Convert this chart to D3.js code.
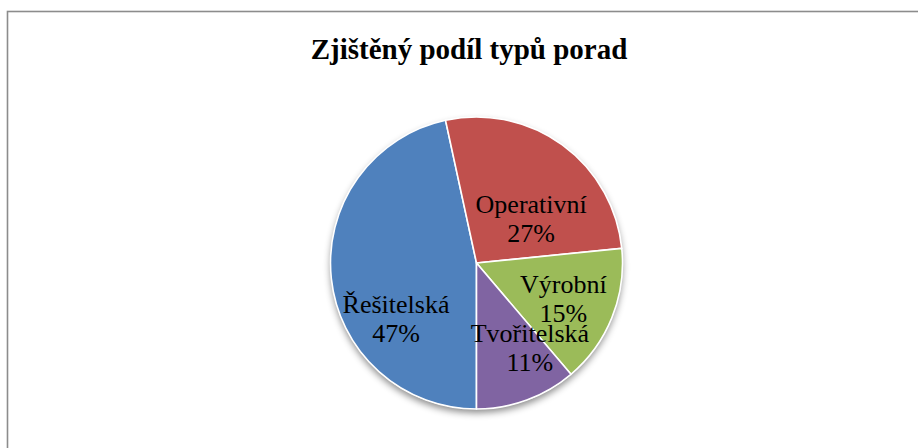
<!DOCTYPE html>
<html>
<head>
<meta charset="utf-8">
<script src="https://cdn.jsdelivr.net/npm/d3@7"></script>
<style>
  html, body { margin: 0; padding: 0; background: #fff; }
  svg { display: block; }
</style>
</head>
<body>
<svg id="chart" width="918" height="448"></svg>
<script>
// ---- data ----
const title = "Zjištěný podíl typů porad";
const categories = ["Řešitelská", "Operativní", "Výrobní", "Tvořitelská"];
const values = [46.6, 26.8, 15.4, 11.2];
const colors = ["#4F81BD", "#C0504D", "#9BBB59", "#8064A2"];

// ---- layout ----
const W = 918, H = 448;
const cx = 476.5, cy = 263, R = 146;
const labelNudge = { "Řešitelská": [11, 40], "Operativní": [0.6, 24.5], "Výrobní": [1.6, -4.3], "Tvořitelská": [21.7, -7.3] };

const svg = d3.select("#chart");

const defs = svg.append("defs");
const f = defs.append("filter").attr("id", "shadow").attr("x", "-20%").attr("y", "-20%").attr("width", "140%").attr("height", "140%");
f.append("feDropShadow").attr("dx", 0).attr("dy", 4).attr("stdDeviation", 3.5)
  .attr("flood-color", "#000").attr("flood-opacity", 0.45);

// frame
svg.append("rect")
  .attr("x", 7.5).attr("y", 11.5).attr("width", 912).attr("height", 460)
  .attr("fill", "#fff").attr("stroke", "#8c8c8c").attr("stroke-width", 1.6);

// title
svg.append("text")
  .attr("x", 469).attr("y", 59)
  .attr("text-anchor", "middle")
  .attr("font-family", "'Liberation Serif', 'Times New Roman', serif")
  .attr("font-weight", "bold")
  .attr("font-size", 29)
  .attr("fill", "#000")
  .text(title);

const data = categories.map((c, i) => ({ name: c, value: values[i], color: colors[i] }));
const total = d3.sum(values);

const pie = d3.pie().sort(null).value(d => d.value)
  .startAngle(Math.PI).endAngle(3 * Math.PI);
const arcs = pie(data);

const arc = d3.arc().innerRadius(0).outerRadius(R);
const labelArc = d3.arc().innerRadius(92).outerRadius(92);

const g = svg.append("g").attr("transform", `translate(${cx},${cy})`);

// shadow
g.append("circle").attr("r", R).attr("fill", "#fff").attr("filter", "url(#shadow)");

g.selectAll("path.slice").data(arcs).enter().append("path")
  .attr("class", "slice")
  .attr("d", arc)
  .attr("fill", d => d.data.color)
  .attr("stroke", "#fff")
  .attr("stroke-width", 1.6)
  .attr("stroke-linejoin", "round");

const lbl = g.selectAll("text.lbl").data(arcs).enter().append("text")
  .attr("class", "lbl")
  .attr("text-anchor", "middle")
  .attr("font-family", "'Liberation Serif', 'Times New Roman', serif")
  .attr("font-size", 26)
  .attr("fill", "#000")
  .attr("transform", d => {
    const c = labelArc.centroid(d);
    const n = labelNudge[d.data.name];
    return `translate(${c[0] + n[0]},${c[1] + n[1]})`;
  });
lbl.append("tspan").attr("x", 0).attr("y", 0).text(d => d.data.name);
lbl.append("tspan").attr("x", 0).attr("y", 29).text(d => Math.round(d.data.value / total * 100) + "%");
</script>
</body>
</html>
